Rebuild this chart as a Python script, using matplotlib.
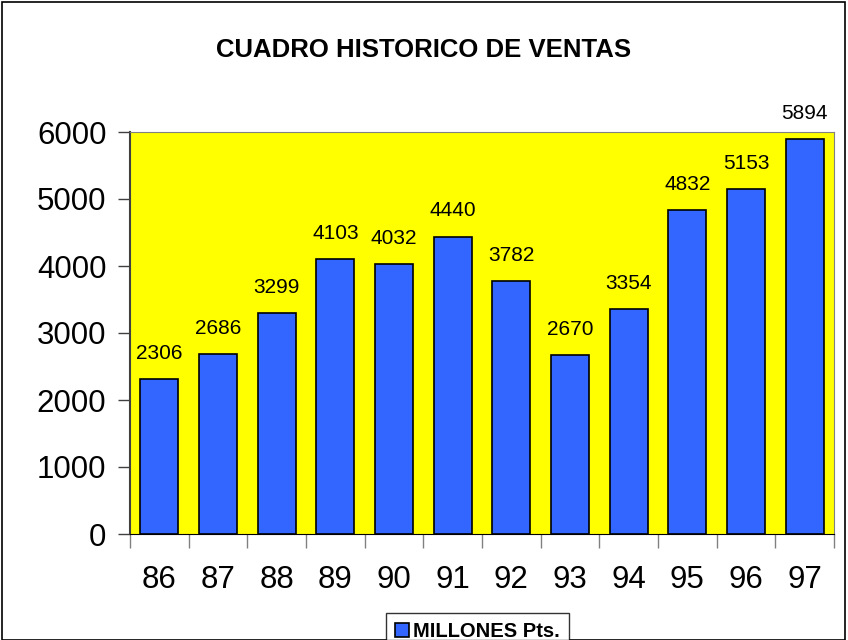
import matplotlib.pyplot as plt
from matplotlib.patches import Rectangle

# data
years = ["86", "87", "88", "89", "90", "91", "92", "93", "94", "95", "96", "97"]
ventas = [2306, 2686, 3299, 4103, 4032, 4440, 3782, 2670, 3354, 4832, 5153, 5894]
y_ticks = [0, 1000, 2000, 3000, 4000, 5000, 6000]

plt.rcParams['font.family'] = ['Liberation Sans', 'DejaVu Sans']

fig = plt.figure(figsize=(8.48, 6.4), dpi=100)
ax = fig.add_axes([130 / 848, 1 - 534 / 640, 704 / 848, 402 / 640])

x = range(len(years))
ax.bar(x, ventas, width=0.65, color='#3366FF', edgecolor='black', linewidth=1.2,
       label='MILLONES Pts.', zorder=2)
for xi, v in zip(x, ventas):
    ax.text(xi, v + 240, str(v), ha='center', va='bottom', fontsize=15)

ax.set_facecolor('#FFFF00')
ax.set_xlim(-0.5, len(years) - 0.5)
ax.set_ylim(0, 6000)
ax.set_yticks(y_ticks)
ax.set_yticklabels([str(t) for t in y_ticks], fontsize=22.5)
ax.tick_params(axis='y', length=9, width=1, color='#404040', direction='out', pad=8)

# category ticks sit between bars, labels centred under bars
ax.set_xticks([i - 0.5 for i in range(len(years) + 1)])
ax.set_xticklabels([])
ax.set_xticks(list(x), minor=True)
ax.set_xticklabels(years, minor=True, fontsize=22.5)
ax.tick_params(axis='x', which='major', length=10, width=1, color='#808080', direction='out')
ax.tick_params(axis='x', which='minor', length=0, pad=22)

for side in ['top', 'right']:
    ax.spines[side].set_color('#808080')
ax.spines['left'].set_color('#404040')
ax.spines['left'].set_linewidth(1.5)
ax.spines['bottom'].set_color('black')

fig.text(0.5, 1 - 50 / 640, 'CUADRO HISTORICO DE VENTAS', ha='center', va='center',
         fontsize=18.5, fontweight='bold')

leg = fig.legend(loc='upper left', bbox_to_anchor=(386 / 848, 1 - 613 / 640), frameon=True,
                 fancybox=False, edgecolor='black', prop={'size': 14.5, 'weight': 'bold'},
                 handlelength=0.7, handleheight=0.7, handletextpad=0.2, borderpad=0.45,
                 borderaxespad=0)
leg.get_frame().set_linewidth(1)

fig.patches.append(Rectangle((2 / 848, 0), 843 / 848, 1 - 2 / 640, transform=fig.transFigure,
                             fill=False, edgecolor='black', linewidth=1.2))

fig.savefig('out.png', dpi=100)
